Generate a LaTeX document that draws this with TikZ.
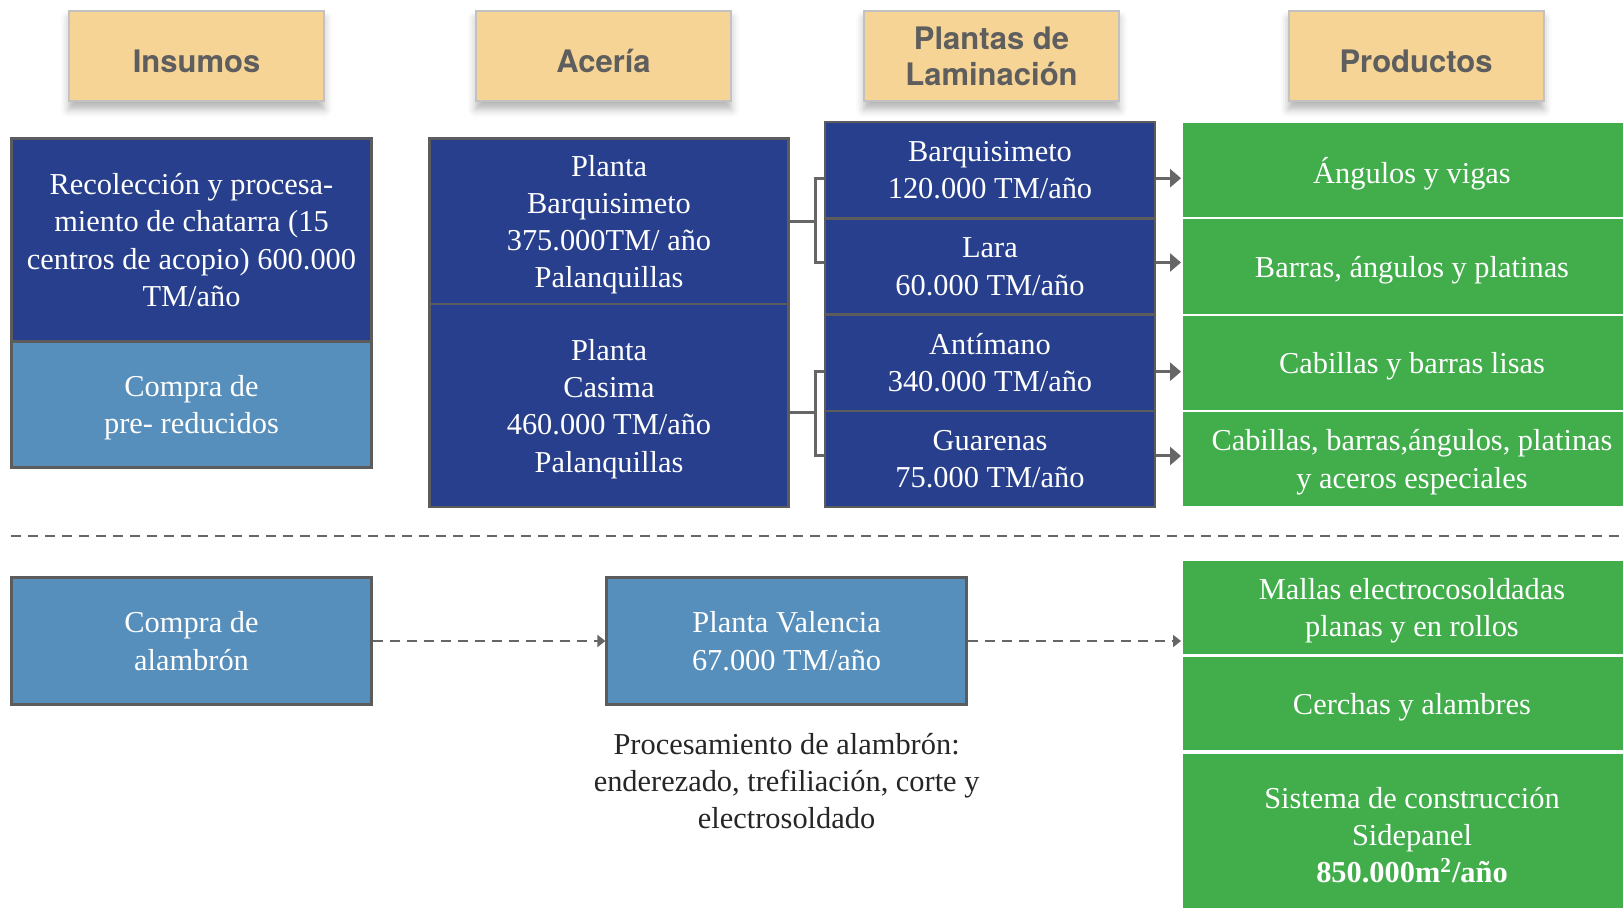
\documentclass[tikz,border=0pt]{standalone}
\usepackage{fontspec}
\setmainfont{Liberation Serif}
\newfontfamily\headfont{TeX Gyre Heros}
\usepackage{tikz}
\usetikzlibrary{arrows.meta,shadows.blur}
\definecolor{AceNavy}{HTML}{273F8D}
\definecolor{AceSky}{HTML}{568EBC}
\definecolor{AceGreen}{HTML}{41AE4B}
\definecolor{AceSand}{HTML}{F5D496}
\definecolor{AceLine}{HTML}{666666}
\definecolor{AceText}{HTML}{5E5E5E}
\tikzset{
  header/.style={draw=black!24,line width=1pt,fill=AceSand,text=AceText,align=center,
    minimum width=127.5pt,minimum height=45pt,inner sep=0pt,
    font=\headfont\bfseries\fontsize{15.5}{18}\selectfont,
    blur shadow={shadow xshift=0pt,shadow yshift=-4pt,shadow blur radius=4pt,shadow opacity=30}},
  oneline/.style={text height=17pt},
  block/.style={draw=AceLine!90!black,line width=1.2pt,fill=AceNavy,text=white,align=center,
    inner sep=0pt,text depth=-2.5pt,font=\fontsize{15.2}{18.6}\selectfont},
  buy/.style={block,fill=AceSky},
  product/.style={draw=white,line width=1pt,fill=AceGreen,text=white,align=center,
    minimum width=230pt,inner sep=0pt,text depth=-2.5pt,font=\fontsize{15.2}{18.6}\selectfont},
  note/.style={align=center,text=black!85,font=\fontsize{15.2}{18.6}\selectfont},
  link/.style={line width=1.5pt,draw=AceLine},
  flow/.style={-{Triangle[length=5.5pt,width=9pt]},line width=1.5pt,draw=AceLine},
  dflow/.style={-{Triangle[length=4pt,width=6pt]},line width=1pt,draw=AceLine,
    dash pattern=on 5pt off 3.5pt},
  sep/.style={line width=1pt,draw=AceLine,dash pattern=on 5pt off 3.5pt}
}
\begin{document}
\begin{tikzpicture}[x=0.5pt,y=-0.5pt]
  \useasboundingbox (0,0) rectangle (1623,908);
  \clip (0,0) rectangle (1623,908);
  % column headers
  \node[header,oneline] (hIns) at (196.5,56) {Insumos};
  \node[header,oneline] (hAce) at (603.5,56) {Acería};
  \node[header] (hLam) at (991.5,56) {Plantas de\\Laminación};
  \node[header,oneline] (hPro) at (1416,56) {Productos};
  % insumos
  \node[block,minimum width=180pt,minimum height=101.5pt] (recol) at (191.5,240)
    {Recolección y procesa-\\miento de chatarra (15\\centros de acopio) 600.000\\TM/año};
  \node[buy,minimum width=180pt,minimum height=63pt] (preRed) at (191.5,404.7)
    {Compra de\\pre- reducidos};
  % aceria
  \node[block,minimum width=179.5pt,minimum height=82.8pt] (plBarq) at (609,221.5)
    {Planta\\Barquisimeto\\375.000TM/ año\\Palanquillas};
  \node[block,minimum width=179.5pt,minimum height=101.5pt] (plCas) at (609,405.7)
    {Planta\\Casima\\460.000 TM/año\\Palanquillas};
  % laminacion
  \node[block,minimum width=165pt,minimum height=48.15pt] (lamBarq) at (990,170.2) {Barquisimeto\\120.000 TM/año};
  \node[block,minimum width=165pt,minimum height=48.15pt] (lamLara) at (990,266.5) {Lara\\60.000 TM/año};
  \node[block,minimum width=165pt,minimum height=48.15pt] (lamAnt) at (990,362.7) {Antímano\\340.000 TM/año};
  \node[block,minimum width=165pt,minimum height=48.15pt] (lamGua) at (990,459) {Guarenas\\75.000 TM/año};
  % productos
  \node[product,minimum height=48.15pt] (prAng) at (1412,170.2) {Ángulos y vigas};
  \node[product,minimum height=48.15pt] (prBar) at (1412,266.5) {Barras, ángulos y platinas};
  \node[product,minimum height=48.15pt] (prCab) at (1412,362.7) {Cabillas y barras lisas};
  \node[product,minimum height=48.15pt] (prEsp) at (1412,459)
    {Cabillas, barras,ángulos, platinas\\y aceros especiales};
  % brackets
  \draw[link] (plBarq.east) -- ++(12.9pt,0) coordinate (jBarq);
  \draw[link] ([yshift=-4pt]lamBarq.west) -| (jBarq) |- ([yshift=2pt]lamLara.west);
  \draw[link] ([yshift=-3.5pt]plCas.east) -- ++(12.9pt,0) coordinate (jCas);
  \draw[link] ([yshift=-4.5pt]lamAnt.west) -| (jCas) |- ([yshift=1.5pt]lamGua.west);
  \foreach \a/\b/\s in {lamBarq/prAng/-4pt,lamLara/prBar/2pt,lamAnt/prCab/-4.5pt,lamGua/prEsp/1.5pt}
    \draw[flow] ([yshift=\s]\a.east) -- ([yshift=\s]\b.west);
  % separator
  \draw[sep] (11.4,536) -- (1623,536);
  % alambron
  \node[buy,minimum width=180pt,minimum height=63.5pt] (alambron) at (191.5,641) {Compra de\\alambrón};
  \node[buy,minimum width=180pt,minimum height=63.5pt] (valencia) at (786.6,641) {Planta Valencia\\67.000 TM/año};
  \node[note] (procNote) at (786.6,781)
    {Procesamiento de alambrón:\\enderezado, trefiliación, corte y\\electrosoldado};
  \node[product,minimum height=47.5pt] (prMal) at (1412,607.5) {Mallas electrocosoldadas\\planas y en rollos};
  \node[product,minimum height=47.5pt] (prCer) at (1412,703.5) {Cerchas y alambres};
  \node[product,minimum height=82pt] (prSid) at (1412,835)
    {Sistema de construcción\\Sidepanel\\\textbf{850.000m\textsuperscript{2}/año}};
  \draw[dflow] (alambron) -- (valencia);
  \draw[dflow] (valencia.east) -- (valencia.east -| prMal.west);
\end{tikzpicture}
\end{document}
